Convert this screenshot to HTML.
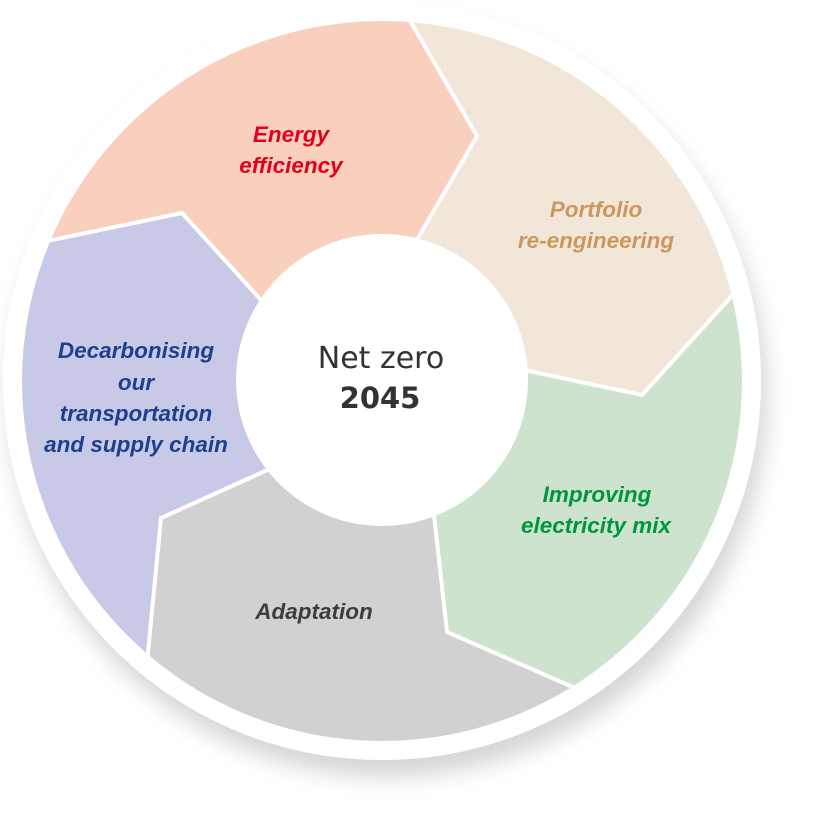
<!DOCTYPE html>
<html>
<head>
<meta charset="utf-8">
<style>
  html, body { margin: 0; padding: 0; background: #fff; width: 813px; height: 813px; overflow: hidden; }
  svg { display: block; }
  .lbl { font-family: "Liberation Sans", sans-serif; font-weight: bold; font-style: italic; font-size: 22.5px; text-anchor: middle; }
</style>
</head>
<body>
<svg width="813" height="813" viewBox="0 0 813 813" xmlns="http://www.w3.org/2000/svg">
  <defs>
    <filter id="sh" filterUnits="userSpaceOnUse" x="0" y="0" width="813" height="813">
      <feDropShadow dx="6" dy="17" stdDeviation="11" flood-color="#000" flood-opacity="0.16"/>
    </filter>
    <clipPath id="disk"><circle cx="382" cy="381" r="360"/></clipPath>
  </defs>
  <rect width="813" height="813" fill="#fff"/>
  <circle cx="382" cy="381" r="379" fill="#fff" filter="url(#sh)"/>
  <g clip-path="url(#disk)">
    <polygon fill="#f9d0be" points="382,381 271,311 182,213 9,249 0,0 398,0 477,136 410,252"/>
    <polygon fill="#f2e6d9" points="382,381 410,252 477,136 398,0 813,0 813,200 759,266 642,395 510,367"/>
    <polygon fill="#cde3ce" points="382,381 510,367 642,395 759,266 813,300 813,813 607,702 447,632 432,497"/>
    <polygon fill="#d1d1d1" points="382,381 432,497 447,632 607,702 650,813 100,813 144,694 161,518 283,463"/>
    <polygon fill="#c8c9e7" points="382,381 283,463 161,518 144,694 0,800 0,260 9,249 182,213 271,311"/>
    <g fill="none" stroke="#fff" stroke-width="4" stroke-linejoin="miter">
      <polyline points="398,0 477,136 410,252"/>
      <polyline points="510,367 642,395 759,266"/>
      <polyline points="432,497 447,632 607,702"/>
      <polyline points="283,463 161,518 144,694"/>
      <polyline points="271,311 182,213 9,249"/>
    </g>
  </g>
  <circle cx="382" cy="380" r="146" fill="#fff"/>

  <text class="lbl" fill="#e2001a"><tspan x="291" y="142">Energy</tspan><tspan x="291" y="173">efficiency</tspan></text>
  <text class="lbl" fill="#c9995c"><tspan x="596" y="217">Portfolio</tspan><tspan x="596" y="248">re-engineering</tspan></text>
  <text class="lbl" fill="#00963f"><tspan x="597" y="502">Improving</tspan><tspan x="596" y="533">electricity mix</tspan></text>
  <text class="lbl" fill="#3d3d3d"><tspan x="314" y="619">Adaptation</tspan></text>
  <text class="lbl" fill="#1d3f8e"><tspan x="136" y="358">Decarbonising</tspan><tspan x="136" y="390">our</tspan><tspan x="136" y="421">transportation</tspan><tspan x="136" y="452">and supply chain</tspan></text>

  <text x="381" y="368" font-family="DejaVu Sans, sans-serif" font-size="30" fill="#333" text-anchor="middle">Net zero</text>
  <text x="380" y="408" font-family="DejaVu Sans, sans-serif" font-size="29" font-weight="bold" fill="#333" text-anchor="middle">2045</text>
</svg>
</body>
</html>
